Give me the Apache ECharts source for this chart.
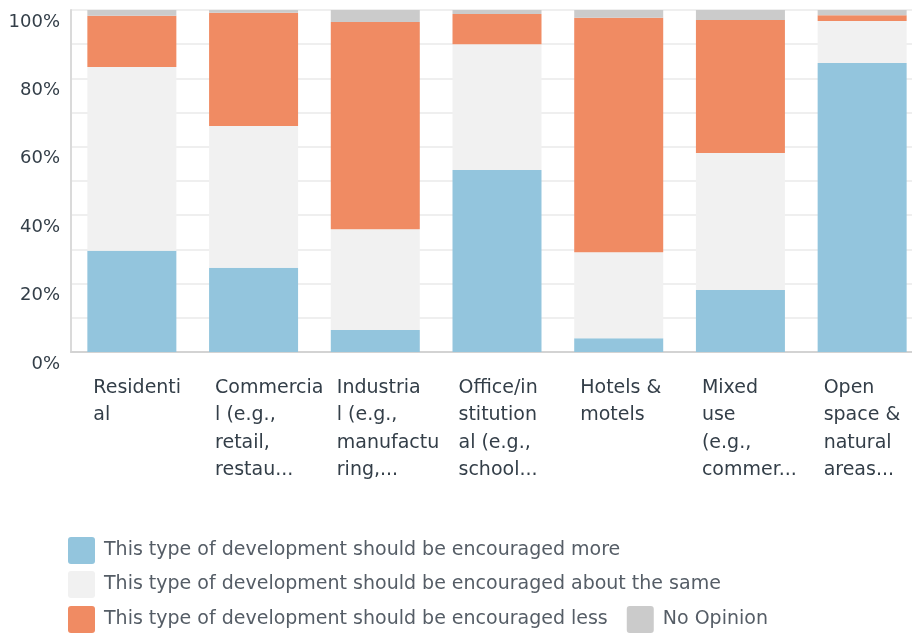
<!DOCTYPE html>
<html>
<head>
<meta charset="utf-8">
<script src="https://cdn.jsdelivr.net/npm/echarts@6/dist/echarts.min.js"></script>
<style>
  html, body { margin: 0; padding: 0; background: #fff; overflow: hidden; }
  /* plot area runs past the right edge of the window in the reference */
  #chart { width: 923px; height: 635px; }
</style>
</head>
<body>
<div id="chart"></div>
<script>
// categories (already wrapped/truncated as in the survey export)
const categories = [
  'Residenti\nal',
  'Commercia\nl (e.g.,\nretail,\nrestau...',
  'Industria\nl (e.g.,\nmanufactu\nring,...',
  'Office/in\nstitution\nal (e.g.,\nschool...',
  'Hotels &\nmotels',
  'Mixed\nuse\n(e.g.,\ncommer...',
  'Open\nspace &\nnatural\nareas...'
]

const seriesNames = [
  'This type of development should be encouraged more',
  'This type of development should be encouraged about the same',
  'This type of development should be encouraged less',
  'No Opinion'
]

// percent of respondents
const moreVals = [29.6, 24.6, 6.4, 53.2, 4.0, 18.1, 84.5]
const sameVals = [53.7, 41.5, 29.5, 36.8, 25.2, 40.1, 12.3]
const lessVals = [15.0, 33.1, 60.6, 8.8, 68.5, 38.9, 1.7]
const noOpVals = [1.7, 0.8, 3.5, 1.2, 2.3, 2.9, 1.5]

const yTicks = [0, 20, 40, 60, 80, 100]

const colors = ['#93c5dd', '#f1f1f1', '#f08b63', '#cbcbcb']
const font = 'DejaVu Sans'
const icon = 'path://M3,0H24A3,3 0 0 1 27,3V24A3,3 0 0 1 24,27H3A3,3 0 0 1 0,24V3A3,3 0 0 1 3,0Z'

const chart = echarts.init(document.getElementById('chart'))

const legendBase = {
  left: 63,
  orient: 'horizontal',
  itemWidth: 27,
  itemHeight: 27,
  icon: icon,
  selectedMode: false,
  textStyle: { fontFamily: font, fontSize: 19, color: '#555d66', padding: [0, 0, 0, 4] }
}

const option = {
  animation: false,
  color: colors,
  grid: { left: 71, right: 0, top: 10, bottom: 283, containLabel: false },
  legend: [
    Object.assign({}, legendBase, { top: 532, data: [seriesNames[0]] }),
    Object.assign({}, legendBase, { top: 566, data: [seriesNames[1]] }),
    Object.assign({}, legendBase, { top: 601, itemGap: 19, data: [seriesNames[2], seriesNames[3]] })
  ],
  xAxis: {
    type: 'category',
    data: categories,
    axisTick: { show: false },
    axisLine: { show: true, lineStyle: { color: '#d3d3d3', width: 2 } },
    axisLabel: {
      interval: 0,
      margin: 22,
      formatter: v => v.split('\n').map(s => '{a|' + s + '}').join('\n'),
      rich: {
        a: { width: 77, align: 'left', fontFamily: font, fontSize: 19, lineHeight: 27.5, color: '#333e48' }
      }
    }
  },
  yAxis: {
    type: 'value',
    min: 0,
    max: 100,
    interval: 10,
    axisLine: { show: true, lineStyle: { color: '#dadada', width: 2 } },
    axisTick: { show: false },
    splitLine: { lineStyle: { color: '#efefef', width: 2 } },
    axisLabel: {
      margin: 11,
      verticalAlign: 'top',
      padding: [3, 0, 0, 0],
      fontFamily: font,
      fontSize: 18,
      color: '#333e48',
      formatter: v => (yTicks.includes(v) ? v + '%' : '')
    }
  },
  series: [
    { name: seriesNames[0], type: 'bar', stack: 'total', barWidth: 89, data: moreVals },
    { name: seriesNames[1], type: 'bar', stack: 'total', barWidth: 89, data: sameVals },
    { name: seriesNames[2], type: 'bar', stack: 'total', barWidth: 89, data: lessVals },
    { name: seriesNames[3], type: 'bar', stack: 'total', barWidth: 89, data: noOpVals }
  ]
}

chart.setOption(option)
</script>
</body>
</html>
